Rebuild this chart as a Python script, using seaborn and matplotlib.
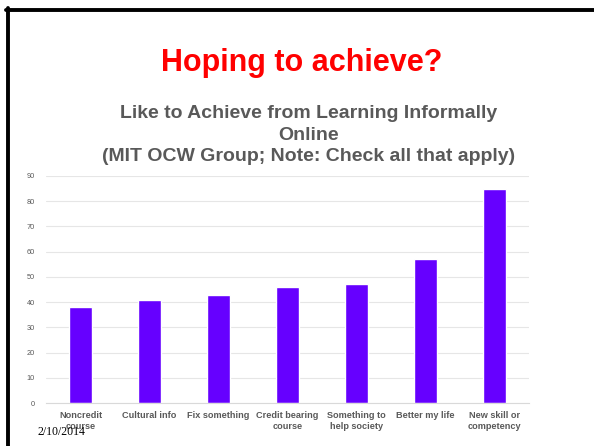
import matplotlib
matplotlib.use("Agg")
import matplotlib.pyplot as plt
import seaborn as sns
import pandas as pd
from matplotlib.lines import Line2D

categories = ["Noncredit\ncourse", "Cultural info", "Fix something", "Credit bearing\ncourse",
              "Something to\nhelp society", "Better my life", "New skill or\ncompetency"]
values = [38, 41, 43, 46, 47, 57, 85]
yticks = [0, 10, 20, 30, 40, 50, 60, 70, 80, 90]

sns.set_theme(style="white")
plt.rcParams['font.family'] = ['Liberation Sans', 'DejaVu Sans']

fig = plt.figure(figsize=(5.94, 4.46), dpi=100)
ax = fig.add_axes([46/594, 1-403/446, 483/594, 227/446])

df = pd.DataFrame({"cat": categories, "val": values})
sns.barplot(data=df, x="cat", y="val", color="#6600ff", saturation=1, width=0.32, ax=ax)

ax.set_ylim(0, 90)
ax.set_xlim(-0.5, len(categories) - 0.5)
ax.set_yticks(yticks)
ax.set_yticklabels([str(t) for t in yticks], fontsize=5.3, color="#595959")
ax.tick_params(axis='y', length=0, pad=8)
ax.tick_params(axis='x', length=0, pad=6)
for lbl in ax.get_xticklabels():
    lbl.set_fontsize(6.6)
    lbl.set_fontweight("bold")
    lbl.set_color("#595959")
    lbl.set_linespacing(1.25)
ax.yaxis.grid(True, color="#e6e6e6", linewidth=0.8)
ax.set_axisbelow(True)
for s in ["top", "right", "left"]:
    ax.spines[s].set_visible(False)
ax.spines["bottom"].set_color("#d9d9d9")
ax.spines["bottom"].set_linewidth(0.8)
ax.set_xlabel("")
ax.set_ylabel("")

fig.text(302/594, 1-63/446, "Hoping to achieve?", ha="center", va="center",
         fontsize=22, fontweight="bold", color="#ff0000")
fig.text(309/594, 1-135/446,
         "Like to Achieve from Learning Informally\nOnline\n(MIT OCW Group; Note: Check all that apply)",
         ha="center", va="center", fontsize=14, fontweight="bold", color="#595959",
         linespacing=1.35, multialignment="center")
fig.text(37/594, 1-432/446, "2/10/2014", ha="left", va="center", fontsize=8.5,
         family=["Liberation Serif"], color="#000000")

# slide border
fig.add_artist(Line2D([7.5/594, 7.5/594], [0, 1-8/446], transform=fig.transFigure,
                      color="black", linewidth=2.8))
fig.add_artist(Line2D([7.5/594 - 0.002, 1], [1-9.5/446, 1-9.5/446], transform=fig.transFigure,
                      color="black", linewidth=2.8))

fig.savefig("out.png", dpi=100)
